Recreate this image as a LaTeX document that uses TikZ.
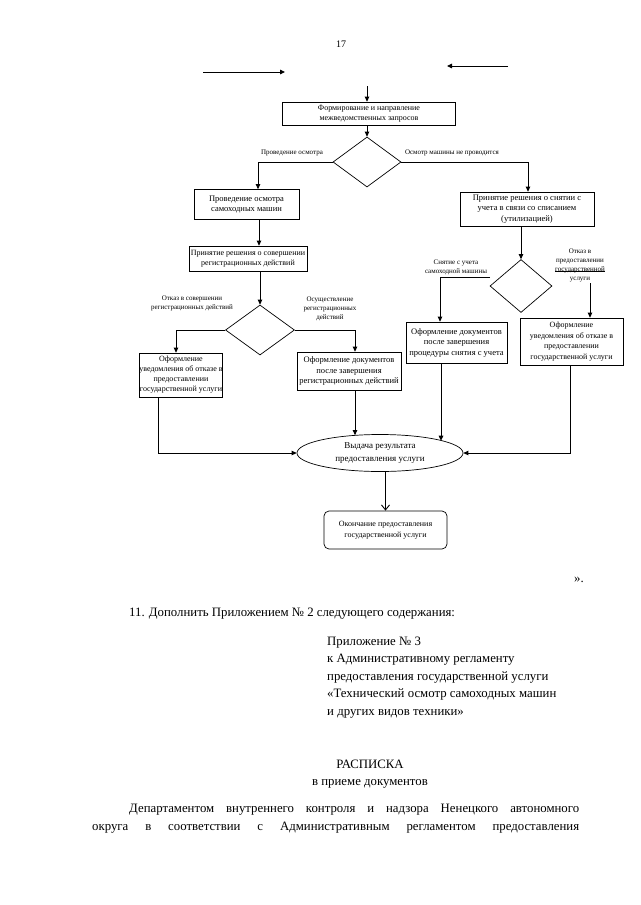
\documentclass[tikz,border=0pt]{standalone}
\usepackage{fontspec}
\setmainfont{Liberation Serif}
\usetikzlibrary{arrows.meta,shapes.geometric,calc}
\begin{document}
\begin{tikzpicture}[x=1pt,y=-1pt,
 box/.style={draw,line width=0.7pt,align=center,inner sep=0pt,font=\fontsize{8.5}{10.5}\selectfont},
 dia/.style={draw,diamond,line width=0.7pt,inner sep=0pt},
 lbl/.style={align=center,inner sep=0pt,font=\fontsize{7}{9}\selectfont},
 arr/.style={line width=0.9pt,-{Triangle[length=5pt,width=4.5pt]}},
 openarr/.style={line width=0.9pt,-{Straight Barb[length=5pt,width=8pt]}},
 ln/.style={line width=0.9pt},
 body/.style={inner sep=0pt,anchor=base west,font=\fontsize{12.8}{15}\selectfont}
]
\useasboundingbox (0,0) rectangle (640,905);
\fill[white] (0,0) rectangle (640,905);

\node[font=\fontsize{10}{12}\selectfont] (pn) at (341,44) {17};

% top arrows
\coordinate (a1) at (203,72); \coordinate (a2) at (285,72);
\coordinate (a3) at (508,66); \coordinate (a4) at (447,66);
\draw[arr] (a1) -- (a2);
\draw[arr] (a3) -- (a4);
\coordinate (t0) at (367,86);

% columns
\coordinate (xa) at (258,0);
\coordinate (xb) at (528,0);
\coordinate (xc) at (259,0);
\coordinate (xd) at (176,0);
\coordinate (xe) at (355,0);
\coordinate (xf) at (440,0);
\coordinate (xg) at (158,0);
\coordinate (xh) at (441,0);
\coordinate (xi) at (570,0);

% nodes
\node[box,minimum width=173pt,minimum height=23pt,font=\fontsize{8}{9.5}\selectfont] (b1) at (369,113.5) {Формирование и направление\\межведомственных запросов};
\node[dia,minimum width=68pt,minimum height=50pt] (d1) at (367,162) {};
\node[box,minimum width=105pt,minimum height=30pt] (b2) at (246.5,204.5) {Проведение осмотра\\самоходных машин};
\node[box,minimum width=134pt,minimum height=34pt] (b3) at (527,209) {Принятие решения о снятии с\\учета в связи со списанием\\(утилизацией)};
\node[box,minimum width=118pt,minimum height=25pt,font=\fontsize{8}{10.5}\selectfont] (b4) at (248,258.5) {Принятие решения о совершении\\регистрационных действий};
\node[dia,minimum width=69pt,minimum height=50pt] (dL) at (260,330) {};
\node[box,minimum width=71pt,minimum height=44pt,font=\fontsize{8}{10}\selectfont] (b5) at (181,375) {Оформление\\уведомления об отказе в\\предоставлении\\государственной услуги};
\node[box,minimum width=104pt,minimum height=38pt] (b6) at (349,371) {Оформление документов\\после завершения\\регистрационных действий};
\node[dia,minimum width=62pt,minimum height=53pt] (dR) at (521,286) {};
\node[box,minimum width=101pt,minimum height=41pt] (b7) at (456.5,342.5) {Оформление документов\\после завершения\\процедуры снятия с учета};
\node[box,minimum width=103pt,minimum height=47pt,font=\fontsize{8}{10.5}\selectfont] (b8) at (571.5,341.5) {Оформление\\уведомления об отказе в\\предоставлении\\государственной услуги};
\node[ellipse,draw,line width=0.7pt,minimum width=166pt,minimum height=37pt,inner sep=0pt,align=center,font=\fontsize{9}{12.5}\selectfont] (el) at (380,453) {Выдача результата\\предоставления услуги};
\node[box,rounded corners=5pt,minimum width=123pt,minimum height=38pt,font=\fontsize{8}{11}\selectfont] (b9) at (385.5,530) {Окончание предоставления\\государственной услуги};

% labels
\node[lbl] (l1) at (292,153) {Проведение осмотра};
\node[lbl] (l2) at (452,153) {Осмотр машины не проводится};
\node[lbl] (l3) at (192,303) {Отказ в совершении\\регистрационных действий};
\node[lbl] (l4) at (330,309) {Осуществление\\регистрационных\\действий};
\node[lbl] (l5) at (456,267.5) {Снятие с учета\\самоходной машины};
\node[lbl] (l6) at (580,265) {Отказ в\\предоставлении\\государственной\\услуги};

% connectors
\draw[arr] (t0) -- (b1.north -| t0);
\draw[arr] (b1.south -| t0) -- (d1.north);
\draw[arr] (d1.west) -| (b2.north -| xa);
\draw[arr] (d1.east) -| (b3.north -| xb);
\draw[arr] (b2.south -| xc) -- (b4.north -| xc);
\draw[arr] (b4.south -| dL.north) -- (dL.north);
\draw[arr] (dL.west) -| (b5.north -| xd);
\draw[arr] (dL.east) -| (b6.north -| xe);
\draw[arr] (b3.south -| dR.north) -- (dR.north);
\coordinate (dRw) at (490,277);
\draw[arr] (dRw) -| (b7.north -| xf);
\coordinate (u1) at (555,271); \coordinate (u2) at (605,271);
\draw[ln] (u1) -- (u2);
\coordinate (v1) at (590,283);
\draw[arr] (v1) -- (b8.north -| v1);
\draw[arr] (b5.south -| xg) |- (el.west);
\draw[arr] (b6.south -| xe) -- (xe |- el.146);
\draw[arr] (b7.south -| xh) -- (xh |- el.11);
\draw[arr] (b8.south -| xi) |- (el.east);
\draw[openarr] (el.south -| b9.north) -- (b9.north);

% body text
\node[body] (q) at (574,582) {».};
\node[body] (p11) at (129,616) {11. Дополнить Приложением № 2 следующего содержания:};
\node[body] (ap1) at (327,645) {Приложение № 3};
\node[body] (ap2) at (327,662.5) {к Административному регламенту};
\node[body] (ap3) at (327,680) {предоставления государственной услуги};
\node[body] (ap4) at (327,697.5) {«Технический осмотр самоходных машин};
\node[body] (ap5) at (327,715) {и других видов техники»};
\node[body,anchor=base] (t1) at (370,768) {РАСПИСКА};
\node[body,anchor=base] (t2) at (370,785.5) {в приеме документов};
\node[body] (g1) at (129,812) {\makebox[450pt][s]{Департаментом внутреннего контроля и надзора Ненецкого автономного}};
\node[body] (g2) at (92,830) {\makebox[487pt][s]{округа в соответствии с Административным регламентом предоставления}};
\end{tikzpicture}
\end{document}
